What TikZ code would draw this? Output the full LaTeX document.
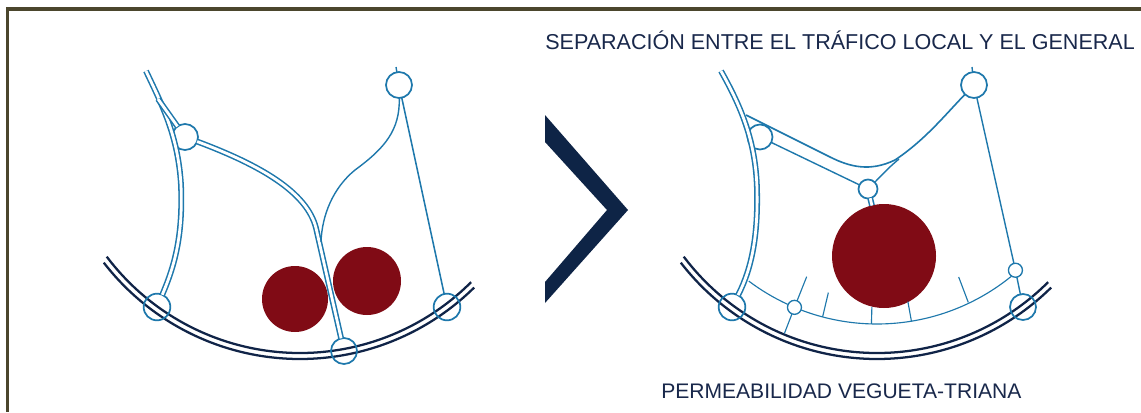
\documentclass[tikz,border=0pt]{standalone}
\usepackage{fontspec}
\setmainfont{Liberation Sans}
\usetikzlibrary{calc}
\definecolor{roadblue}{RGB}{30,120,172}
\definecolor{navyline}{RGB}{16,36,72}
\definecolor{chevcol}{RGB}{14,36,70}
\definecolor{blobred}{RGB}{128,11,21}
\definecolor{textnavy}{RGB}{25,40,75}
\definecolor{framecol}{RGB}{75,70,45}
\begin{document}
\begin{tikzpicture}[x=0.75pt,y=-0.75pt,
  road/.style={draw=roadblue,line width=1.15pt,double=white,double distance=2.1pt},
  thinroad/.style={draw=roadblue,line width=1.05pt},
  localroad/.style={draw=roadblue,line width=0.85pt},
  hub/.style={circle,draw=roadblue,line width=1.3pt,inner sep=0pt,outer sep=0pt,minimum size=19.5pt},
  blob/.style={circle,fill=blobred,inner sep=0pt,outer sep=0pt},
  avenue/.style={draw=navyline,line width=1.7pt},
  framestyle/.style={draw=framecol,line width=2.6pt},
  label/.style={text=textnavy,inner sep=0pt,anchor=base west}]
\useasboundingbox (0,0) rectangle (1141,412);
\fill[white] (0,0) rectangle (1141,412);
% frame
\draw[framestyle] (1141,9) -- (7.5,9) -- (7.5,412);
% centres of the ring roads
\coordinate (ctrL) at (300,111);
\coordinate (ctrR) at (877,111);
% ===== left diagram =====
\draw[avenue] ([shift={(143:242)}]ctrL) arc[start angle=143,end angle=45,radius=242];
\draw[avenue] ([shift={(142.3:248)}]ctrL) arc[start angle=142.3,end angle=45.4,radius=248];
\node[blob,minimum size=49.5pt] (red1) at (295,299) {};
\node[blob,minimum size=51pt] (red2) at (367,281) {};
\node[hub] (n1) at (399,85) {};
\node[hub] (n2) at (185,137) {};
\node[hub,minimum size=20pt] (n3) at (157,307) {};
\node[hub] (n4) at (344,351) {};
\node[hub,minimum size=20pt] (n5) at (447,307) {};
\coordinate (lt) at (146,71);
\coordinate (lb) at (158,99);
\coordinate (m1) at (321,242);
\coordinate (n1t) at (396,67);
\draw[road] (lt) .. controls (162,105) and (178,135) .. (181,185) .. controls (183,235) and (175,265) .. (n3);
\draw[road] (lb) -- (n2);
\draw[road] (n2) .. controls (260,165) and (307,192) .. (316,228) -- (n4);
\draw[thinroad] (n1) .. controls (400,130) and (385,148) .. (355,170) .. controls (333,188) and (322,215) .. (m1);
\draw[thinroad,line width=1.15pt] (n1) -- (n5);
\draw[thinroad] (n1) -- (n1t);
% ===== chevron =====
\fill[chevcol] (545,115) -- (628,210) -- (545,303) -- (545,282) -- (607,210) -- (545,142) -- cycle;
% ===== right diagram =====
\draw[avenue] ([shift={(143:242)}]ctrR) arc[start angle=143,end angle=45,radius=242];
\draw[avenue] ([shift={(142.3:248)}]ctrR) arc[start angle=142.3,end angle=45.4,radius=248];
\node[blob,minimum size=78pt] (bigred) at (884,256) {};
\node[hub] (rn1) at (974,85) {};
\node[hub,minimum size=18.75pt] (rn2) at (760,137) {};
\node[hub,minimum size=14.25pt] (rn3) at (868,189) {};
\node[hub,minimum size=20pt] (rn4) at (732,307) {};
\node[hub] (rn5) at (1023,307) {};
\node[hub,minimum size=10.5pt,line width=1pt] (rn6) at ([shift={(49:211)}]ctrR) {};
\node[hub,minimum size=10.5pt,line width=1pt] (rn7) at ([shift={(112.8:213)}]ctrR) {};
\coordinate (rt) at (721,71);
\coordinate (ra) at (746,115);
\coordinate (rc) at (899,159);
\coordinate (rn1t) at (972,67);
\draw[road] (rt) .. controls (740,105) and (756,140) .. (757,190) .. controls (758,235) and (752,268) .. (rn4);
\draw[thinroad,line width=1.2pt] (ra) -- (830,157) .. controls (850,167) and (870,172) .. (895,160) .. controls (925,140) and (945,115) .. (rn1);
\draw[thinroad] (rn2) -- (rn3);
\draw[thinroad] (rc) .. controls (888,168) and (881,176) .. (rn3);
\draw[road] (rn3) -- (bigred);
\draw[thinroad] (rn1) -- (rn6);
\draw[thinroad] (rn6) -- (rn5);
\draw[thinroad] (rn1) -- (rn1t);
% local ring
\draw[localroad] ([shift={(127:213)}]ctrR) arc[start angle=127,end angle=114.8,radius=213];
\draw[localroad] ([shift={(110.8:213)}]ctrR) arc[start angle=110.8,end angle=50.9,radius=213];
% ticks
\coordinate (ta) at ([shift={(113:180)}]ctrR);
\coordinate (tb) at ([shift={(112.6:241)}]ctrR);
\draw[localroad] (rn7) -- (ta);
\draw[localroad] (rn7) -- (tb);
\draw[localroad] ([shift={(104.8:213)}]ctrR) -- ([shift={(105:188)}]ctrR);
\draw[localroad] ([shift={(91.5:213)}]ctrR) -- ([shift={(91.5:196)}]ctrR);
\draw[localroad] ([shift={(80.7:213)}]ctrR) -- ([shift={(80.8:193)}]ctrR);
\draw[localroad] ([shift={(64.5:212)}]ctrR) -- ([shift={(63.8:185)}]ctrR);
% texts
\node[label,font=\fontsize{16.15}{19}\selectfont] (t1) at (545,49) {SEPARACIÓN ENTRE EL TRÁFICO LOCAL Y EL GENERAL};
\node[label,font=\fontsize{15.8}{18}\selectfont] (t2) at (661,398) {PERMEABILIDAD VEGUETA-TRIANA};
\end{tikzpicture}
\end{document}
